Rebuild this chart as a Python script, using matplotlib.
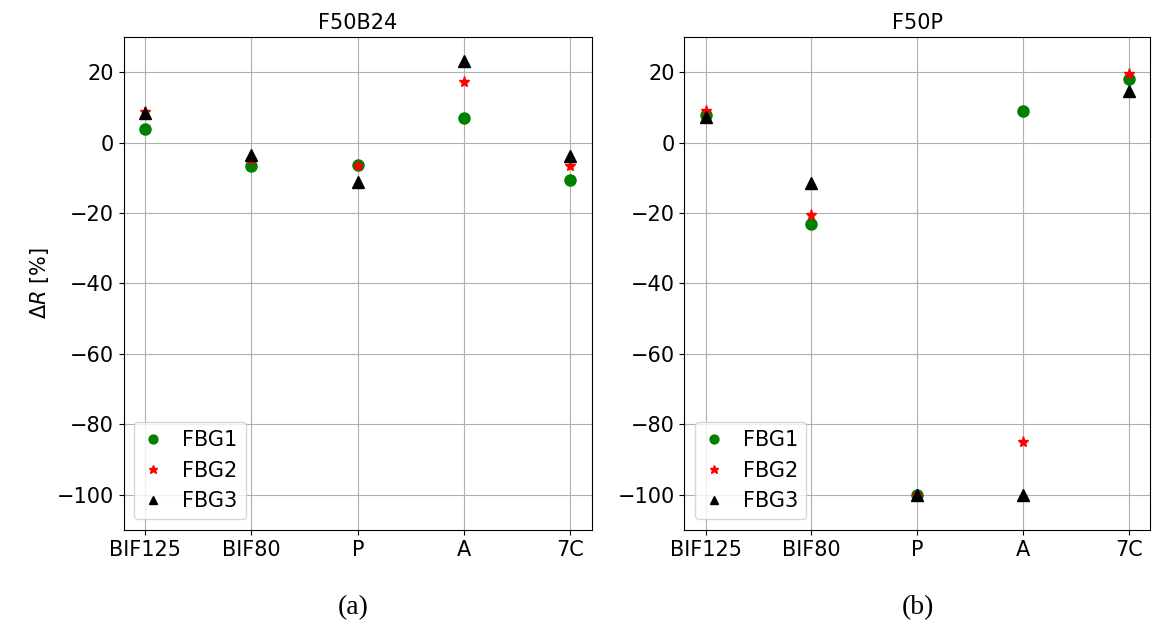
import matplotlib
matplotlib.use("Agg")
import matplotlib.pyplot as plt

plt.rcParams["font.family"] = ["DejaVu Sans"]

categories = ["BIF125", "BIF80", "P", "A", "7C"]
series_names = ["FBG1", "FBG2", "FBG3"]

f50b24_fbg1 = [3.8, -6.7, -6.4, 7.1, -10.7]
f50b24_fbg2 = [8.6, -5.0, -6.7, 17.1, -6.7]
f50b24_fbg3 = [8.3, -3.5, -11.1, 23.3, -3.8]

f50p_fbg1 = [7.9, -23.0, -100.0, 9.0, 18.1]
f50p_fbg2 = [9.1, -20.5, -100.0, -85.0, 19.5]
f50p_fbg3 = [7.2, -11.4, -100.0, -100.0, 14.6]

titles = ["F50B24", "F50P"]
captions = ["(a)", "(b)"]

fig = plt.figure(figsize=(11.58, 6.33), dpi=100)
ax1 = fig.add_axes([0.107, 0.163, 0.404, 0.7785])
ax2 = fig.add_axes([0.591, 0.163, 0.402, 0.7785])

styles = [dict(marker="o", color="green", ms=8),
          dict(marker="*", color="red", ms=8),
          dict(marker="^", color="black", ms=8)]

data = [[f50b24_fbg1, f50b24_fbg2, f50b24_fbg3],
        [f50p_fbg1, f50p_fbg2, f50p_fbg3]]

x = list(range(len(categories)))
for ax, series, title in zip([ax1, ax2], data, titles):
    for vals, name, st in zip(series, series_names, styles):
        ax.plot(x, vals, linestyle="none", label=name, **st)
    ax.set_xticks(x)
    ax.set_xticklabels(categories)
    ax.set_xlim(-0.2, 4.2)
    ax.set_ylim(-110, 30)
    ax.set_yticks([-100, -80, -60, -40, -20, 0, 20])
    ax.grid(True, color="#b0b0b0", linewidth=0.8)
    ax.set_axisbelow(True)
    ax.tick_params(labelsize=15)
    ax.set_title(title, fontsize=15)
    ax.legend(loc="lower left", fontsize=15, handletextpad=0.9,
              handlelength=1.0, markerscale=0.8)

ax1.set_ylabel(r"$\Delta R$ [%]", fontsize=15)

fig.text(0.305, 0.04, captions[0], ha="center", va="center", fontsize=20, family="Liberation Serif")
fig.text(0.793, 0.04, captions[1], ha="center", va="center", fontsize=20, family="Liberation Serif")

fig.savefig("out.png", dpi=100)
